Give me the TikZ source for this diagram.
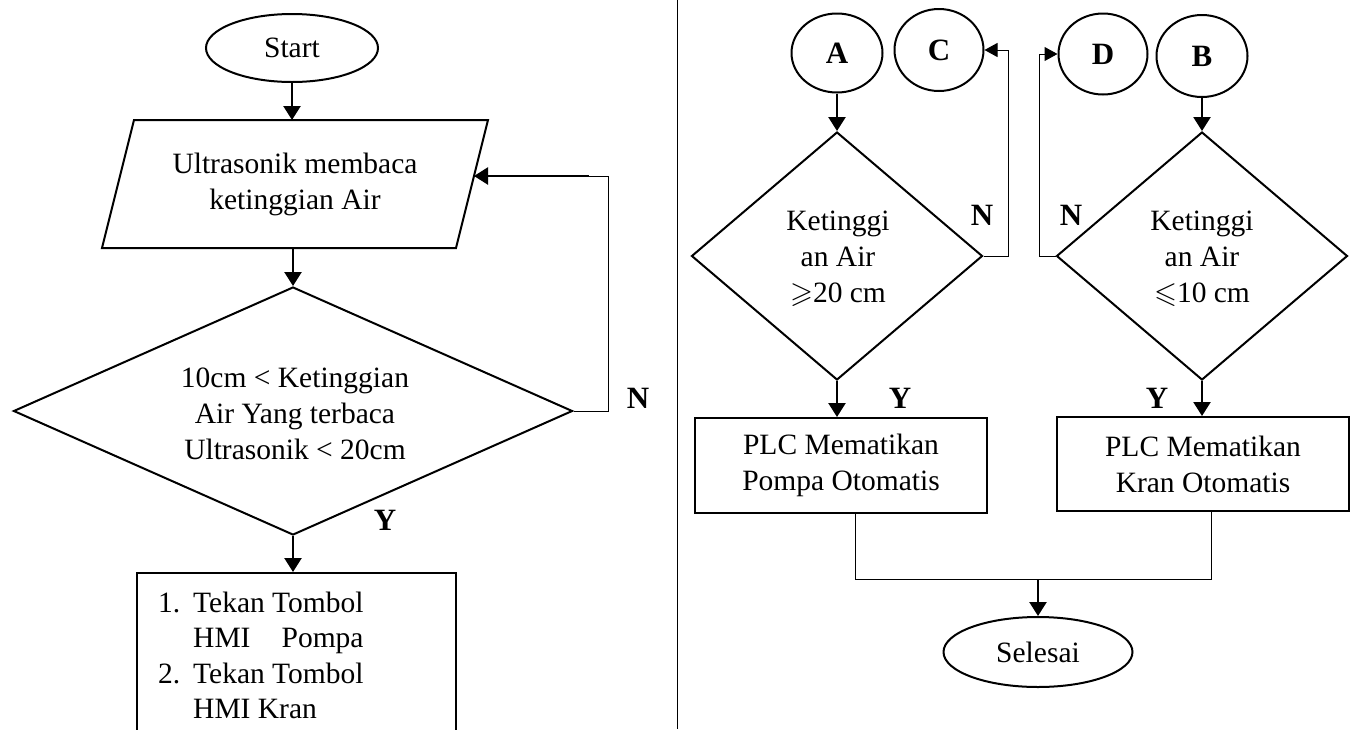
\documentclass[tikz,border=0pt]{standalone}
\usepackage{amssymb}
\usepackage{fontspec}
\setmainfont{Liberation Serif}
\usetikzlibrary{shapes.geometric,arrows.meta}
\begin{document}
\begin{tikzpicture}[x=1pt,y=-1pt,
  outl/.style={draw, line width=2pt},
  txt/.style={font=\fontsize{29.5}{36}\selectfont, align=center, inner sep=0pt},
  lbl/.style={font=\fontsize{31}{36}\selectfont\bfseries, inner sep=0pt},
  term/.style={outl, ellipse, inner sep=0pt, txt},
  proc/.style={outl, rectangle, inner sep=0pt, txt},
  cond/.style={outl, diamond, inner sep=0pt},
  conr/.style={outl, ellipse, inner sep=0pt, lbl},
  conn/.style={line width=1pt},
  arr/.style={line width=2.4pt, -{Triangle[length=14pt,width=17pt]}},
  tip/.style={line width=1pt, -{Triangle[length=13pt,width=14pt]}}
]
\useasboundingbox (0,0) rectangle (1350,729);
\clip (0,0) rectangle (1350,729);

% ---------- left flow ----------
\node[term, minimum width=172, minimum height=68] (start) at (292,48) {Start};

% input parallelogram
\coordinate (inTL) at (134,120);
\coordinate (inTR) at (488,120);
\coordinate (inBR) at (456,248);
\coordinate (inBL) at (102,248);
\coordinate (inR)  at (474,176);
\draw[outl, line join=miter] (inTL) -- (inTR) -- (inBR) -- (inBL) -- cycle;
\node[txt] (inptxt) at (295,184) {Ultrasonik membaca\\ketinggian Air};

\node[cond, minimum width=559, minimum height=248] (dec) at (293,411) {};
\node[txt] (dectxt) at (295,414) {10cm < Ketinggian\\Air Yang terbaca\\Ultrasonik < 20cm};
\node[outl, rectangle, minimum width=319, minimum height=190, inner sep=0pt] (task) at (296.5,668) {};
\node[anchor=base west, inner sep=0pt, font=\fontsize{29.5}{35.5}\selectfont] (tasktxt) at (158,612)
  {\begin{tabular}[t]{@{}l@{}l@{}}
   \makebox[35pt][l]{1.}&Tekan Tombol\\
   &HMI\hfill Pompa\\
   \makebox[35pt][l]{2.}&Tekan Tombol\\
   &HMI Kran
   \end{tabular}};

\node[lbl] (lN) at (638,398) {N};
\node[lbl] (lY) at (385,520) {Y};

\draw[arr] (start.south) -- (start.south |- inTL);
\draw[arr] (dec.north |- inBL) -- (dec.north);
\draw[arr] (dec.south) -- (dec.south |- task.north);

% loop back when the level is outside the range
\coordinate (fbx) at (608,0);
\coordinate (fbs) at (589,0);
\draw[conn] (dec.east) -| (fbx |- inR) -- (fbs |- inR);
\draw[arr] (fbs |- inR) -- (inR);

% divider
\draw[line width=1pt] (677,0) -- (677,729);

% ---------- right flow ----------
\node[conr, minimum width=91, minimum height=79] (A) at (837,53) {A};
\node[conr, minimum width=89, minimum height=82] (C) at (939,50) {C};
\node[conr, minimum width=89, minimum height=81] (D) at (1103,54) {D};
\node[conr, minimum width=91, minimum height=82] (B) at (1202,56) {B};

\node[cond, minimum width=291, minimum height=248] (d1) at (837,256) {};
\node[txt] (d1t) at (838,259) {Ketinggi\\an Air\\$\geqslant$20 cm};
\node[cond, minimum width=291, minimum height=248] (d2) at (1202,256) {};
\node[txt] (d2t) at (1202,259) {Ketinggi\\an Air\\$\leqslant$10 cm};

\node[proc, minimum width=292, minimum height=95] (p1) at (841,465.5) {PLC Mematikan\\Pompa Otomatis};
\node[proc, minimum width=292, minimum height=94] (p2) at (1203,464) {PLC Mematikan\\Kran Otomatis};

\node[term, minimum width=189, minimum height=70] (fin) at (1038,652) {Selesai};

\node[lbl] (rN1) at (982,215) {N};
\node[lbl] (rN2) at (1071,215) {N};
\node[lbl] (rY1) at (900,398) {Y};
\node[lbl] (rY2) at (1157,398) {Y};

\draw[arr] (A.south) -- (A.south |- d1.north);
\draw[arr] (B.south) -- (B.south |- d2.north);
\draw[arr] (d1.south) -- (d1.south |- p1.north);
\draw[arr] (d2.south) -- (d2.south |- p2.north);

\coordinate (cr) at (1008,0);
\coordinate (dl) at (1039,0);
\draw[tip] (d1.east) -- (cr |- d1.east) |- (C.east);
\draw[tip] (d2.west) -- (dl |- d2.west) |- (D.west);

\coordinate (mj) at (1038,579);
\draw[conn] ([xshift=14pt]p1.south) |- (mj);
\draw[conn] ([xshift=8pt]p2.south) |- (mj);
\draw[arr] (mj) -- (fin.north);
\end{tikzpicture}
\end{document}
